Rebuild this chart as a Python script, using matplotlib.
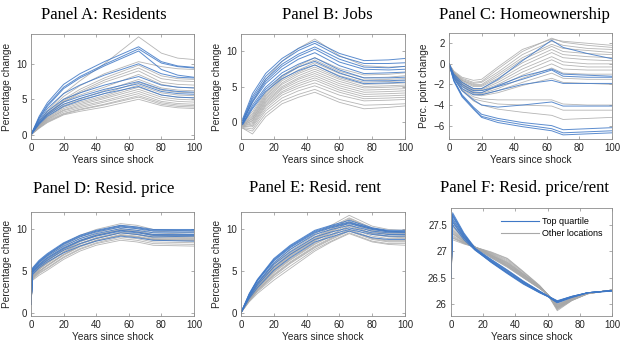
import matplotlib
matplotlib.use("Agg")
import matplotlib.pyplot as plt

# Panel A: Residents
anos_a = [0, 5, 10, 20, 30, 45, 66, 80, 90, 100]
azul_a = [
    [0, 2.6, 4.5, 7.1, 8.6, 10.3, 12.4, 10.3, 9.7, 9.5],
    [0, 2.4, 4.2, 6.7, 8.2, 9.9, 12.1, 10.1, 9.6, 9.4],
    [0, 2.3, 4.0, 6.5, 8.0, 9.7, 11.8, 9.2, 8.4, 8.1],
    [0, 2.1, 3.7, 5.8, 7.0, 8.4, 10.0, 8.6, 8.1, 8.0],
    [0, 1.9, 3.3, 5.0, 5.9, 7.0, 8.2, 7.0, 6.7, 6.6],
    [0, 1.7, 3.0, 4.6, 5.4, 6.4, 7.5, 6.4, 6.1, 6.0],
    [0, 1.6, 2.8, 4.3, 5.1, 6.1, 7.2, 6.1, 5.8, 5.7],
    [0, 1.5, 2.6, 4.0, 4.8, 5.8, 6.8, 5.6, 5.3, 5.2],
]
cinza_a = [
    [0, 1.9, 3.4, 5.8, 7.6, 10.0, 13.8, 11.5, 10.8, 10.6],
    [0, 1.8, 3.2, 5.4, 6.9, 8.6, 10.3, 9.6, 9.3, 9.2],
    [0, 1.7, 3.0, 5.0, 6.4, 8.0, 9.8, 8.3, 7.9, 7.8],
    [0, 1.6, 2.9, 4.8, 6.1, 7.7, 9.4, 7.9, 7.6, 7.5],
    [0, 1.5, 2.8, 4.6, 5.9, 7.4, 9.0, 7.4, 7.1, 7.0],
    [0, 1.6, 2.9, 4.7, 5.6, 6.7, 8.5, 7.1, 6.7, 6.6],
    [0, 1.5, 2.7, 4.3, 5.1, 6.2, 7.8, 6.6, 6.3, 6.2],
    [0, 1.4, 2.5, 4.1, 4.9, 5.8, 7.4, 6.3, 6.0, 5.9],
    [0, 1.3, 2.4, 3.9, 4.6, 5.5, 7.0, 5.9, 5.6, 5.5],
    [0, 1.3, 2.3, 3.7, 4.4, 5.3, 6.7, 5.6, 5.3, 5.2],
    [0, 1.2, 2.2, 3.5, 4.2, 5.1, 6.4, 5.3, 5.0, 4.9],
    [0, 1.2, 2.1, 3.4, 4.0, 4.8, 6.1, 5.0, 4.7, 4.6],
    [0, 1.1, 2.0, 3.2, 3.8, 4.6, 5.8, 4.7, 4.4, 4.3],
    [0, 1.0, 1.9, 3.0, 3.6, 4.3, 5.5, 4.5, 4.2, 4.1],
    [0, 1.0, 1.8, 2.9, 3.5, 4.2, 5.3, 4.3, 4.0, 3.9],
    [0, 0.9, 1.7, 2.8, 3.3, 3.9, 5.0, 4.1, 3.8, 3.7],
]

# Panel B: Jobs
anos_b = [1, 7, 15, 25, 35, 45, 60, 75, 90, 100]
azul_b = [
    [0.5, 4.0, 6.8, 8.9, 10.3, 11.3, 9.6, 8.6, 8.7, 8.9],
    [0.3, 3.6, 6.4, 8.5, 10.0, 11.0, 9.2, 8.2, 8.2, 8.3],
    [0.2, 3.3, 6.0, 8.1, 9.5, 10.5, 8.8, 7.7, 7.6, 7.8],
    [0.0, 3.0, 5.7, 7.8, 9.2, 10.2, 8.4, 7.4, 7.3, 7.4],
    [0.0, 2.8, 5.4, 7.4, 8.8, 9.7, 7.9, 6.8, 6.9, 7.0],
    [-0.2, 2.4, 4.9, 6.9, 8.1, 9.0, 7.3, 6.2, 6.2, 6.3],
    [-0.2, 2.1, 4.6, 6.5, 7.7, 8.5, 6.9, 5.8, 5.8, 5.9],
    [-0.3, 1.9, 4.3, 6.1, 7.2, 8.0, 6.4, 5.4, 5.5, 5.6],
]
cinza_b = [
    [0.3, 2.8, 6.0, 8.5, 10.3, 11.6, 9.3, 7.9, 7.7, 7.8],
    [0.0, 1.5, 4.2, 6.5, 7.9, 9.0, 7.5, 6.6, 6.7, 6.9],
    [0.0, 1.2, 4.0, 6.3, 7.7, 8.7, 7.1, 6.2, 6.3, 6.5],
    [-0.2, 1.0, 3.8, 6.0, 7.3, 8.3, 6.8, 5.9, 6.0, 6.1],
    [-0.2, 0.8, 3.6, 5.8, 7.0, 8.0, 6.5, 5.6, 5.7, 5.8],
    [-0.3, 0.6, 3.4, 5.5, 6.8, 7.7, 6.2, 5.3, 5.4, 5.5],
    [-0.3, 0.5, 3.2, 5.3, 6.5, 7.4, 6.0, 5.0, 5.1, 5.2],
    [-0.4, 0.3, 3.0, 5.0, 6.2, 7.1, 5.7, 4.8, 4.9, 5.0],
    [-0.4, 0.2, 2.8, 4.8, 6.0, 6.8, 5.4, 4.5, 4.6, 4.7],
    [-0.5, 0.0, 2.6, 4.6, 5.7, 6.5, 5.1, 4.2, 4.3, 4.4],
    [-0.5, -0.2, 2.4, 4.3, 5.4, 6.2, 4.8, 3.9, 4.0, 4.1],
    [-0.6, -0.4, 2.2, 4.1, 5.1, 5.9, 4.5, 3.6, 3.7, 3.8],
    [-0.6, -0.6, 1.9, 3.8, 4.8, 5.5, 4.2, 3.3, 3.4, 3.5],
    [-0.7, -0.9, 1.6, 3.4, 4.4, 5.1, 3.8, 3.0, 3.1, 3.2],
    [-0.8, -1.2, 1.2, 3.0, 3.9, 4.6, 3.2, 2.4, 2.5, 2.6],
    [-0.8, -1.6, 0.8, 2.6, 3.5, 4.2, 2.8, 1.9, 2.1, 2.3],
]

# Panel C: Homeownership
anos_c = [0, 3, 8, 15, 20, 30, 45, 63, 70, 85, 100]
azul_c = [
    [0, -1.0, -1.8, -2.4, -2.4, -1.5, 0.3, 2.3, 1.6, 1.0, 0.5],
    [0, -1.2, -2.2, -2.8, -2.8, -2.1, -1.2, -0.5, -1.0, -1.1, -1.2],
    [0, -1.1, -2.0, -2.6, -2.6, -2.2, -1.5, -0.6, -1.2, -1.3, -1.3],
    [0, -1.3, -2.4, -3.0, -3.0, -2.6, -2.0, -1.6, -1.9, -1.9, -1.9],
    [0, -1.4, -2.6, -3.5, -4.0, -4.2, -4.0, -3.7, -4.1, -4.1, -4.1],
    [0, -1.6, -3.0, -4.2, -4.9, -5.3, -5.7, -6.0, -6.4, -6.3, -6.2],
    [0, -1.6, -3.1, -4.3, -5.1, -5.5, -5.9, -6.3, -6.7, -6.6, -6.5],
    [0, -1.7, -3.2, -4.4, -5.2, -5.7, -6.1, -6.5, -6.9, -6.8, -6.7],
]
cinza_c = [
    [0, -0.8, -1.4, -1.8, -1.7, -0.5, 1.2, 2.5, 2.1, 1.8, 1.6],
    [0, -0.8, -1.5, -1.9, -1.8, -0.8, 0.9, 2.2, 1.8, 1.5, 1.4],
    [0, -0.9, -1.6, -2.0, -2.0, -1.0, 0.6, 1.9, 1.5, 1.3, 1.1],
    [0, -0.9, -1.6, -2.1, -2.1, -1.2, 0.4, 1.7, 1.2, 1.0, 0.9],
    [0, -0.9, -1.7, -2.2, -2.2, -1.4, 0.1, 1.4, 0.9, 0.7, 0.6],
    [0, -1.0, -1.8, -2.4, -2.4, -1.6, -0.2, 1.1, 0.6, 0.4, 0.3],
    [0, -1.0, -1.8, -2.5, -2.5, -1.8, -0.5, 0.7, 0.2, 0.0, 0.0],
    [0, -1.0, -1.9, -2.6, -2.6, -2.0, -0.8, 0.4, -0.1, -0.3, -0.3],
    [0, -1.1, -2.0, -2.7, -2.8, -2.2, -1.1, 0.0, -0.5, -0.6, -0.6],
    [0, -1.1, -2.0, -2.8, -2.9, -2.4, -1.4, -0.4, -0.9, -1.0, -1.0],
    [0, -1.2, -2.1, -2.9, -3.0, -2.6, -1.8, -0.9, -1.4, -1.5, -1.5],
    [0, -1.2, -2.2, -3.0, -3.1, -2.8, -2.1, -1.4, -1.8, -1.9, -2.0],
    [0, -1.3, -2.4, -3.2, -3.4, -3.5, -3.5, -3.5, -3.9, -4.0, -4.0],
    [0, -1.4, -2.5, -3.4, -3.6, -3.9, -4.0, -4.1, -4.5, -4.5, -4.5],
    [0, -1.4, -2.6, -3.6, -4.0, -4.4, -4.7, -5.0, -5.4, -5.3, -5.2],
    [0, -0.7, -1.3, -1.6, -1.5, -0.3, 1.4, 2.4, 2.2, 2.0, 1.8],
]

# Panel D: Resid. price
anos_d = [0, 1, 5, 10, 20, 30, 40, 55, 65, 75, 100]
azul_d = [
    [1.0, 5.4, 6.3, 7.1, 8.4, 9.3, 9.9, 10.5, 10.3, 10.0, 10.0],
    [1.0, 5.2, 6.1, 6.9, 8.2, 9.1, 9.7, 10.3, 10.1, 9.8, 9.8],
    [1.0, 5.1, 6.0, 6.8, 8.0, 8.9, 9.5, 10.1, 9.9, 9.6, 9.6],
    [1.0, 5.0, 5.8, 6.6, 7.8, 8.7, 9.3, 9.9, 9.7, 9.4, 9.4],
    [1.0, 4.9, 5.7, 6.5, 7.7, 8.6, 9.2, 9.8, 9.6, 9.3, 9.3],
    [1.0, 4.8, 5.6, 6.3, 7.5, 8.3, 8.9, 9.6, 9.4, 9.1, 9.2],
    [1.0, 4.6, 5.4, 6.1, 7.2, 8.0, 8.6, 9.2, 9.0, 8.7, 8.6],
    [1.0, 5.3, 6.2, 7.0, 8.3, 9.2, 9.8, 10.4, 10.2, 9.9, 9.9],
]
cinza_d = [
    [1.0, 5.2, 6.1, 6.9, 8.3, 9.3, 10.0, 10.7, 10.5, 10.0, 9.8],
    [1.0, 5.0, 5.9, 6.7, 8.1, 9.1, 9.8, 10.5, 10.3, 9.8, 9.6],
    [1.0, 4.9, 5.8, 6.6, 7.9, 8.9, 9.6, 10.3, 10.1, 9.6, 9.4],
    [1.0, 4.8, 5.6, 6.4, 7.7, 8.7, 9.4, 10.1, 9.9, 9.4, 9.3],
    [1.0, 4.7, 5.5, 6.3, 7.6, 8.6, 9.3, 10.0, 9.8, 9.3, 9.2],
    [1.0, 4.6, 5.4, 6.2, 7.5, 8.5, 9.2, 9.9, 9.7, 9.2, 9.1],
    [1.0, 4.5, 5.3, 6.0, 7.3, 8.3, 9.0, 9.7, 9.5, 9.0, 8.9],
    [1.0, 4.4, 5.2, 5.9, 7.2, 8.2, 8.9, 9.6, 9.4, 8.9, 8.8],
    [1.0, 4.3, 5.0, 5.7, 7.0, 8.0, 8.7, 9.4, 9.2, 8.8, 8.7],
    [1.0, 4.2, 4.9, 5.6, 6.9, 7.9, 8.6, 9.3, 9.1, 8.7, 8.6],
    [1.0, 4.1, 4.8, 5.4, 6.7, 7.7, 8.4, 9.1, 8.9, 8.5, 8.4],
    [1.0, 4.0, 4.7, 5.3, 6.6, 7.6, 8.3, 8.9, 8.7, 8.3, 8.2],
    [1.0, 3.9, 4.5, 5.1, 6.4, 7.4, 8.1, 8.7, 8.5, 8.1, 8.0],
    [1.0, 4.6, 5.5, 6.3, 7.6, 8.6, 9.3, 9.9, 9.7, 9.3, 9.2],
    [1.0, 4.4, 5.2, 6.0, 7.3, 8.3, 9.0, 9.6, 9.4, 9.1, 9.0],
    [1.0, 4.2, 5.0, 5.7, 7.0, 8.0, 8.7, 9.3, 9.1, 8.8, 8.7],
]

# Panel E: Resid. rent
anos_e = [0, 5, 10, 20, 30, 45, 55, 66, 80, 90, 100]
azul_e = [
    [0, 2.3, 4.0, 6.5, 8.1, 9.9, 10.5, 11.1, 10.2, 9.9, 9.9],
    [0, 2.2, 3.9, 6.4, 8.0, 9.8, 10.4, 10.9, 10.1, 9.8, 9.8],
    [0, 2.1, 3.8, 6.2, 7.8, 9.6, 10.2, 10.7, 10.0, 9.7, 9.7],
    [0, 2.0, 3.6, 6.0, 7.6, 9.4, 10.0, 10.5, 9.8, 9.6, 9.6],
    [0, 1.9, 3.5, 5.8, 7.3, 9.1, 9.7, 10.2, 9.6, 9.4, 9.4],
    [0, 1.8, 3.3, 5.5, 7.0, 8.8, 9.4, 10.0, 9.4, 9.2, 9.2],
    [0, 1.7, 3.0, 5.1, 6.6, 8.5, 9.1, 9.8, 9.0, 8.8, 8.8],
    [0, 2.2, 3.9, 6.3, 7.9, 9.7, 10.3, 10.8, 10.1, 9.8, 9.7],
]
cinza_e = [
    [0, 1.9, 3.5, 5.9, 7.6, 9.5, 10.5, 11.7, 10.4, 10.0, 9.9],
    [0, 1.9, 3.4, 5.8, 7.4, 9.3, 10.3, 11.4, 10.2, 9.8, 9.7],
    [0, 1.8, 3.3, 5.6, 7.2, 9.1, 10.1, 11.2, 10.0, 9.7, 9.6],
    [0, 1.8, 3.2, 5.4, 7.0, 8.9, 9.9, 11.0, 9.9, 9.5, 9.5],
    [0, 1.7, 3.1, 5.3, 6.9, 8.8, 9.8, 10.8, 9.7, 9.4, 9.3],
    [0, 1.7, 3.0, 5.1, 6.7, 8.6, 9.6, 10.6, 9.5, 9.2, 9.2],
    [0, 1.6, 2.9, 5.0, 6.5, 8.4, 9.4, 10.4, 9.4, 9.1, 9.0],
    [0, 1.6, 2.8, 4.8, 6.3, 8.2, 9.2, 10.2, 9.2, 8.9, 8.9],
    [0, 1.5, 2.7, 4.6, 6.1, 8.0, 9.0, 10.0, 9.0, 8.7, 8.7],
    [0, 1.4, 2.6, 4.4, 5.9, 7.8, 8.8, 9.8, 8.8, 8.5, 8.5],
    [0, 1.4, 2.5, 4.2, 5.6, 7.6, 8.6, 9.6, 8.6, 8.3, 8.3],
    [0, 1.3, 2.3, 3.9, 5.3, 7.4, 8.5, 9.5, 8.5, 8.2, 8.1],
    [0, 1.8, 3.3, 5.5, 7.1, 9.0, 10.0, 11.3, 10.1, 9.7, 9.6],
    [0, 1.7, 3.1, 5.2, 6.8, 8.7, 9.7, 10.9, 9.8, 9.4, 9.4],
    [0, 1.6, 2.9, 4.9, 6.4, 8.3, 9.3, 10.5, 9.5, 9.2, 9.1],
    [0, 1.5, 2.7, 4.5, 6.0, 7.9, 8.9, 9.9, 8.9, 8.6, 8.6],
]

# Panel F: Resid. price/rent
anos_f = [0, 1, 8, 15, 25, 35, 45, 55, 60, 66, 75, 85, 100]
azul_f = [
    [26.5, 27.73, 27.35, 27.06, 26.85, 26.65, 26.44, 26.25, 26.16, 26.07, 26.15, 26.22, 26.25],
    [26.5, 27.70, 27.33, 27.05, 26.83, 26.63, 26.42, 26.24, 26.16, 26.06, 26.15, 26.22, 26.26],
    [26.5, 27.66, 27.30, 27.04, 26.82, 26.62, 26.42, 26.24, 26.16, 26.05, 26.14, 26.22, 26.26],
    [26.5, 27.62, 27.28, 27.04, 26.81, 26.60, 26.40, 26.23, 26.15, 26.04, 26.14, 26.22, 26.26],
    [26.5, 27.58, 27.26, 27.03, 26.80, 26.59, 26.39, 26.22, 26.15, 26.03, 26.13, 26.22, 26.26],
    [26.5, 27.55, 27.25, 27.03, 26.79, 26.58, 26.38, 26.22, 26.15, 26.03, 26.13, 26.22, 26.26],
    [26.5, 27.68, 27.32, 27.05, 26.84, 26.64, 26.43, 26.25, 26.16, 26.06, 26.15, 26.22, 26.25],
    [26.5, 27.50, 27.22, 27.02, 26.80, 26.60, 26.40, 26.23, 26.16, 26.05, 26.14, 26.22, 26.26],
]
cinza_f = [
    [26.5, 27.60, 27.30, 27.08, 26.88, 26.70, 26.50, 26.30, 26.19, 26.00, 26.11, 26.21, 26.27],
    [26.5, 27.55, 27.28, 27.08, 26.89, 26.72, 26.51, 26.31, 26.19, 25.99, 26.11, 26.21, 26.27],
    [26.5, 27.50, 27.26, 27.08, 26.90, 26.73, 26.52, 26.31, 26.19, 25.98, 26.10, 26.21, 26.27],
    [26.5, 27.46, 27.24, 27.08, 26.91, 26.74, 26.53, 26.32, 26.19, 25.97, 26.10, 26.21, 26.27],
    [26.5, 27.42, 27.22, 27.08, 26.92, 26.75, 26.54, 26.32, 26.19, 25.96, 26.10, 26.21, 26.27],
    [26.5, 27.40, 27.21, 27.08, 26.93, 26.76, 26.55, 26.33, 26.19, 25.95, 26.09, 26.21, 26.27],
    [26.5, 27.36, 27.19, 27.08, 26.94, 26.78, 26.56, 26.33, 26.19, 25.94, 26.09, 26.21, 26.27],
    [26.5, 27.33, 27.18, 27.08, 26.95, 26.80, 26.57, 26.34, 26.19, 25.93, 26.08, 26.20, 26.27],
    [26.5, 27.30, 27.17, 27.08, 26.96, 26.82, 26.58, 26.34, 26.19, 25.92, 26.08, 26.20, 26.27],
    [26.5, 27.28, 27.16, 27.08, 26.97, 26.84, 26.60, 26.35, 26.19, 25.91, 26.08, 26.20, 26.27],
    [26.5, 27.25, 27.15, 27.08, 26.98, 26.86, 26.61, 26.35, 26.19, 25.90, 26.07, 26.20, 26.27],
    [26.5, 27.22, 27.14, 27.08, 26.99, 26.87, 26.62, 26.36, 26.19, 25.88, 26.07, 26.20, 26.27],
    [26.5, 27.48, 27.25, 27.07, 26.88, 26.71, 26.50, 26.30, 26.18, 26.01, 26.11, 26.21, 26.27],
    [26.5, 27.38, 27.20, 27.07, 26.90, 26.73, 26.52, 26.31, 26.18, 25.99, 26.10, 26.21, 26.27],
    [26.5, 27.26, 27.16, 27.07, 26.92, 26.77, 26.55, 26.32, 26.18, 25.96, 26.09, 26.21, 26.27],
    [26.5, 27.34, 27.19, 27.07, 26.93, 26.79, 26.57, 26.33, 26.19, 25.94, 26.09, 26.21, 26.27],
]

titulos = ["Panel A: Residents", "Panel B: Jobs", "Panel C: Homeownership",
           "Panel D: Resid. price", "Panel E: Resid. rent", "Panel F: Resid. price/rent"]
rotulos_y = ["Percentage change", "Percentage change", "Perc. point change",
             "Percentage change", "Percentage change", ""]

AZUL = "#3f78c6"
CINZA = "#a8a8a8"
W, H = 622, 341

plt.rcParams["font.family"] = ["Liberation Sans", "DejaVu Sans"]

fig = plt.figure(figsize=(W / 100, H / 100), dpi=100)

# posicoes em pixels: esquerda, direita, topo, base
caixas = [(31, 194, 34, 139), (241, 405, 34, 139), (449, 612, 33, 139),
          (31, 194, 212, 316), (241, 405, 212, 316), (451, 612, 208, 316)]
titulo_xy = [(104, 15), (327, 15), (524, 15), (104, 189), (315, 188), (524, 188)]
limites_y = [(-0.6, 14.2), (-2.3, 12.3), (-7.3, 3.0), (-0.4, 12.1), (-0.4, 12.1), (25.78, 27.82)]
ticks_y = [[0, 5, 10], [0, 5, 10], [-6, -4, -2, 0, 2], [0, 5, 10], [0, 5, 10], [26, 26.5, 27, 27.5]]

paineis = [
    (anos_a, azul_a, cinza_a), (anos_b, azul_b, cinza_b), (anos_c, azul_c, cinza_c),
    (anos_d, azul_d, cinza_d), (anos_e, azul_e, cinza_e), (anos_f, azul_f, cinza_f),
]

for i, (anos, azul, cinza) in enumerate(paineis):
    l, r, t, b = caixas[i]
    ax = fig.add_axes([l / W, 1 - b / H, (r - l) / W, (b - t) / H])
    for serie in cinza:
        ax.plot(anos, serie, color=CINZA, lw=0.6, alpha=0.85)
    for serie in azul:
        ax.plot(anos, serie, color=AZUL, lw=0.7, alpha=0.85)
    ax.set_xlim(0, 100)
    ax.set_ylim(*limites_y[i])
    ax.set_xticks([0, 20, 40, 60, 80, 100])
    ax.set_yticks(ticks_y[i])
    if i == 5:
        ax.set_yticklabels(["26", "26.5", "27", "27.5"])
    ax.tick_params(direction="in", length=2.5, width=0.5, labelsize=7,
                   colors="#8c8c8c", labelcolor="#262626", top=True, right=True, pad=3)
    for s in ax.spines.values():
        s.set_color("#8c8c8c")
        s.set_linewidth(0.6)
    ax.set_xlabel("Years since shock", fontsize=7.3, color="#262626", labelpad=1)
    if rotulos_y[i]:
        ax.set_ylabel(rotulos_y[i], fontsize=7.3, color="#262626", labelpad=3)
    tx, ty = titulo_xy[i]
    fig.text(tx / W, 1 - ty / H, titulos[i], ha="center", va="center",
             fontsize=12, family="Liberation Serif")
    if i == 5:
        ax.plot([], [], color=AZUL, lw=0.8, label="Top quartile")
        ax.plot([], [], color=CINZA, lw=0.8, label="Other locations")
        ax.legend(loc="upper right", frameon=False, fontsize=6.5, handlelength=4.2,
                  handletextpad=0.4, labelspacing=0.3, borderaxespad=0.6)

fig.savefig("out.png", dpi=100)
